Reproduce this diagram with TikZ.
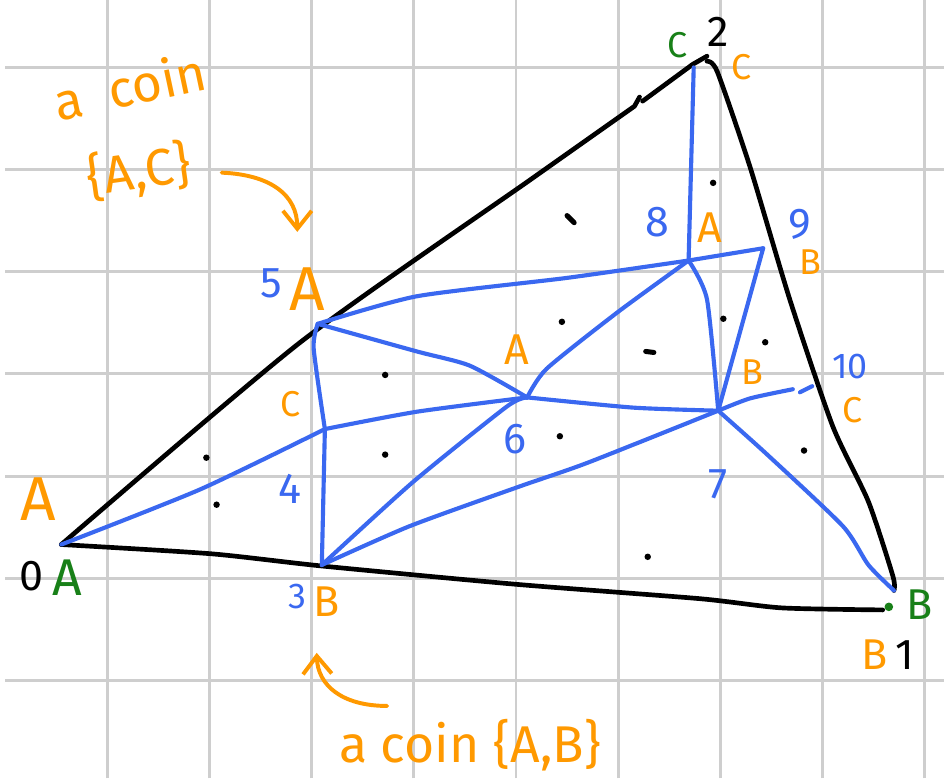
\documentclass[tikz,border=0pt]{standalone}
\usepackage{fontspec}
\setmainfont{Fira Sans}
\usepackage{tikz}
\usetikzlibrary{arrows.meta,positioning,calc}

\definecolor{penblue}{RGB}{58,104,240}
\definecolor{penorange}{RGB}{255,153,0}
\definecolor{pengreen}{RGB}{24,128,24}
\definecolor{gridgray}{RGB}{206,206,206}

\tikzset{
  edge/.style={black,line width=1.3pt,line cap=round,line join=round},
  road/.style={penblue,line width=1.15pt,line cap=round,line join=round},
  pen/.style={penorange,line width=1.1pt,line cap=round,-{Straight Barb[length=5pt,width=8pt]}},
  num/.style={penblue,font=\large,inner sep=0pt},
  tag/.style={penorange,font=\large,inner sep=0pt},
  note/.style={penorange,font=\Large,inner sep=0pt},
  smalltag/.style={penorange,font=\normalsize,inner sep=0pt},
  corner/.style={pengreen,font=\Large,inner sep=0pt},
  vid/.style={black,font=\large,inner sep=0pt},
  dot/.style={fill=black,circle,inner sep=0pt,minimum size=1.8pt},
}

\begin{document}
\begin{tikzpicture}[smooth,tension=0.4]
  \useasboundingbox (-0.05,-0.96) rectangle (9.19,6.66);
  % squared paper
  \foreach \y in {0,...,6} \draw[gridgray,line width=0.8pt] (0,\y)--(9.19,\y);
  \foreach \x in {1,...,9} \draw[gridgray,line width=0.8pt] (\x,-0.96)--(\x,6.66);

  % vertices
  \coordinate (v0) at (0.55,1.33);
  \coordinate (v1) at (8.70,0.88);
  \coordinate (v2) at (6.87,6.11);
  \coordinate (v3) at (3.10,1.13);
  \coordinate (v4) at (3.13,2.46);
  \coordinate (v5) at (3.06,3.49);
  \coordinate (v6) at (5.11,2.77);
  \coordinate (v7) at (6.98,2.64);
  \coordinate (v8) at (6.69,4.11);
  \coordinate (v9) at (7.42,4.23);
  \coordinate (v10) at (7.90,2.88);
  \coordinate (top) at (6.74,6.00);
  \coordinate (bend) at (8.59,0.69);

  % big triangle
  \draw[edge] plot coordinates {(v0) (2.89,3.31) (5.14,4.90) (6.16,5.62)} -- (6.21,5.71);
  \draw[edge] (6.24,5.67) -- (6.73,6.03) -- (v2);
  \draw[edge] plot coordinates {(6.87,6.06) (6.97,5.96) (7.29,5.03) (7.68,3.73) (8.10,2.49) (8.45,1.75) (8.69,1.02) (v1)};
  \draw[edge] plot coordinates {(v0) (2.01,1.24) (3.10,1.12) (5.01,0.94) (6.80,0.80) (7.60,0.71) (bend)};
  \fill[pengreen] (8.65,0.72) circle (1.2pt);

  % subdivision
  \draw[road] plot coordinates {(v0) (1.91,1.87) (v4)};
  \draw[road] plot coordinates {(v4) (4.03,2.63) (v6)};
  \draw[road] plot coordinates {(v5) (4.03,3.76) (5.50,3.94) (v8)};
  \draw[road] (v8) -- (v9);
  \draw[road] (v8) -- (top);
  \draw[road] plot coordinates {(v5) (3.02,3.25) (v4)};
  \draw[road] (v4) -- (v3);
  \draw[road] plot coordinates {(v5) (4.03,3.22) (4.55,3.08) (v6)};
  \draw[road] plot coordinates {(v6) (5.30,3.05) (5.99,3.60) (v8)};
  \draw[road] plot coordinates {(v6) (6.15,2.67) (v7)};
  \draw[road] plot coordinates {(v3) (3.99,1.94) (4.91,2.68) (v6)};
  \draw[road] plot coordinates {(v3) (3.96,1.51) (5.04,1.90) (5.70,2.13) (v7)};
  \draw[road] plot coordinates {(v8) (6.87,3.73) (v7)};
  \draw[road] (v9) -- (v7);
  \draw[road] plot coordinates {(v7) (7.29,2.76) (7.71,2.85)};
  \draw[road] (7.78,2.82) -- (v10);
  \draw[road] plot coordinates {(v7) (7.46,2.21) (8.20,1.51) (8.45,1.13) (v1)};

  % one dot per face
  \foreach \p [count=\i] in {{1.97,2.18},{2.07,1.72},{3.72,2.99},{3.72,2.21},{5.45,3.51},
      {6.93,4.87},{7.03,3.54},{7.44,3.31},{5.43,2.39},{6.29,1.21},{7.82,2.25}}
    \node[dot] (d\i) at (\p) {};
  \draw[black,line width=1.4pt,line cap=round] (5.50,4.55) -- (5.57,4.48);
  \draw[black,line width=1.4pt,line cap=round] (6.27,3.22) -- (6.35,3.21);

  % labels
  \node[vid] (l0) at (0.26,1.02) {0};
  \node[corner] (cA) at (0.61,1.01) {A};
  \node[penorange,font=\LARGE,inner sep=0pt] (tA0) at (0.32,1.77) {A};
  \node[num,font=\normalsize] (l3) at (2.86,0.82) {3};
  \node[tag] (tB3) at (3.15,0.77) {B};
  \node[num] (l4) at (2.79,1.87) {4};
  \node[smalltag] (tC4) at (2.79,2.70) {C};
  \node[num] (l5) at (2.61,3.89) {5};
  \node[penorange,font=\LARGE,inner sep=0pt] (tA5) at (2.96,3.83) {A};
  \node[tag] (tA6) at (5.01,3.24) {A};
  \node[num] (l6) at (4.99,2.36) {6};
  \node[num] (l8) at (6.38,4.49) {8};
  \node[tag] (tA8) at (6.90,4.43) {A};
  \node[num] (l9) at (7.78,4.46) {9};
  \node[smalltag] (tB9) at (7.88,4.09) {B};
  \node[smalltag] (tB7) at (7.31,3.02) {B};
  \node[num,font=\normalsize] (l10) at (8.27,3.07) {10};
  \node[smalltag] (tC10) at (8.29,2.65) {C};
  \node[num] (l7) at (6.98,1.92) {7};
  \node[corner,font=\normalsize] (cC) at (6.58,6.22) {C};
  \node[vid] (l2) at (6.98,6.35) {2};
  \node[smalltag] (tC2) at (7.21,6.00) {C};
  \node[corner,font=\large] (cB) at (8.95,0.74) {B};
  \node[tag] (tB1) at (8.51,0.25) {B};
  \node[vid] (l1) at (8.81,0.25) {1};

  % notes
  \node[note,rotate=12] (noteAC) at (1.22,5.82) {a\ \ coin};
  \node[note,rotate=8] (setAC) at (1.31,4.98) {\{A,C\}};
  \coordinate (fromAC) at (2.12,4.97);
  \coordinate (toA5) at (2.86,4.39);
  \draw[pen] (fromAC) .. controls (2.60,4.95) and (2.86,4.75) .. (toA5);
  \node[note] (noteAB) at (4.55,-0.63) {a coin \{A,B\}};
  \coordinate (fromAB) at (3.74,-0.25);
  \coordinate (toB3) at (3.05,0.27);
  \draw[pen] (fromAB) .. controls (3.30,-0.25) and (3.06,-0.05) .. (toB3);
\end{tikzpicture}
\end{document}
